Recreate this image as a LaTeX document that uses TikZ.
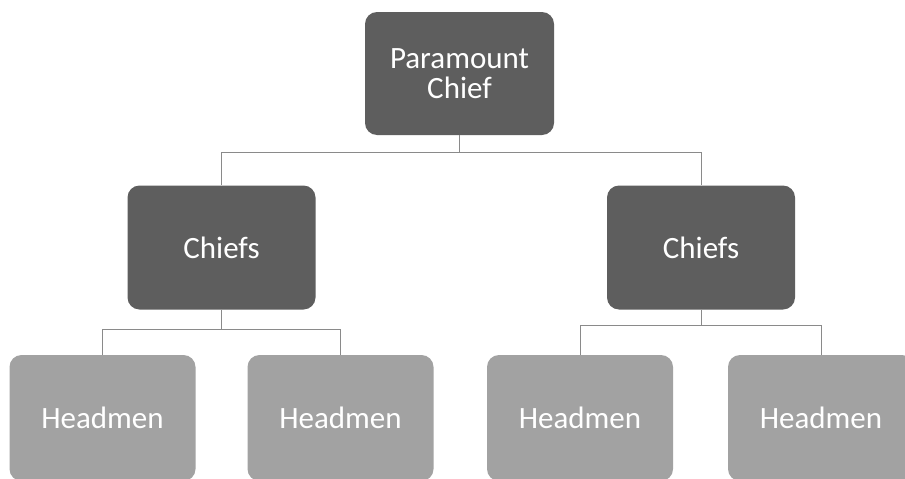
\documentclass[tikz,border=0pt]{standalone}
\usepackage{fontspec}
\setmainfont{Carlito}
\usetikzlibrary{positioning}
\definecolor{darkbox}{HTML}{5E5E5E}
\definecolor{lightbox}{HTML}{A2A2A2}
\definecolor{linkgray}{HTML}{8A8A8A}
\tikzset{
  boxbase/.style={rounded corners=12pt, text=white, align=center, inner sep=0pt,
    font=\fontsize{31}{34}\selectfont},
  darkbox/.style={boxbase, fill=darkbox, minimum width=188pt, minimum height=124pt},
  lightbox/.style={boxbase, fill=lightbox, minimum width=186pt, minimum height=126pt},
  link/.style={draw=linkgray, line width=0.8pt}
}
\begin{document}
\begin{tikzpicture}[x=1pt,y=-1pt]
\clip (0,0) rectangle (905,479);
\fill[white] (0,0) rectangle (905,479);
\node[darkbox, minimum width=189pt, minimum height=123pt] (pc) at (459.5,73.5) {Paramount\\[-4pt]Chief};
\node[darkbox] (cl) at (221.5,247.5) {Chiefs};
\node[darkbox] (cr) at (701,247.5) {Chiefs};
\node[lightbox] (h1) at (102.5,418) {Headmen};
\node[lightbox] (h2) at (340.5,418) {Headmen};
\node[lightbox] (h3) at (580,418) {Headmen};
\node[lightbox] (h4) at (821,418) {Headmen};
\coordinate (pj) at (459.5,152);
\coordinate (lj) at (221.5,329);
\coordinate (rj) at (701,325);
\draw[link] (pc.south) -- (pj);
\draw[link] (pj) -| (cl.north);
\draw[link] (pj) -| (cr.north);
\draw[link] (cl.south) -- (lj);
\draw[link] (lj) -| (h1.north);
\draw[link] (lj) -| (h2.north);
\draw[link] (cr.south) -- (rj);
\draw[link] (rj) -| (h3.north);
\draw[link] (rj) -| (h4.north);
\end{tikzpicture}
\end{document}
